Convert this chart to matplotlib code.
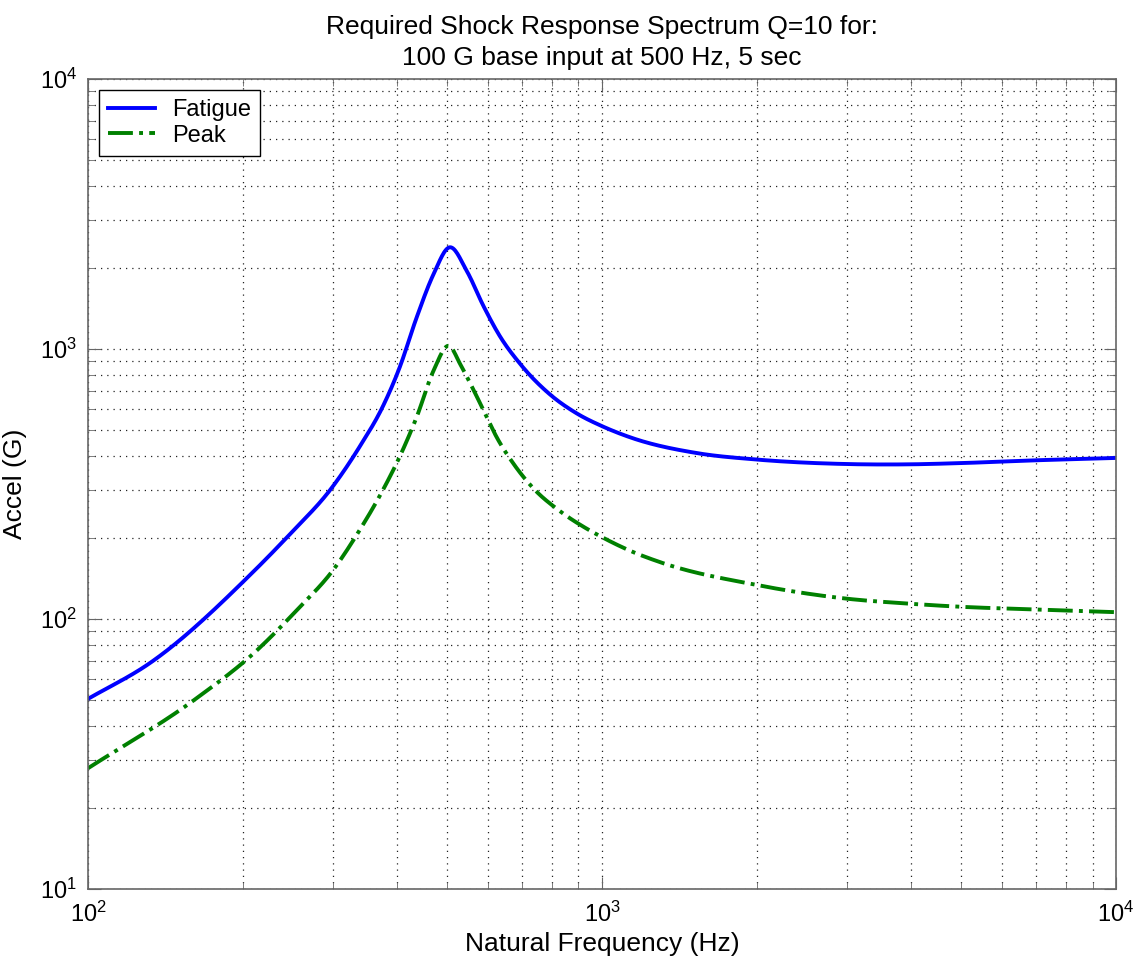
import numpy as np
import matplotlib
matplotlib.use("Agg")
import matplotlib.pyplot as plt

plt.rcParams['font.family'] = ['Liberation Sans', 'DejaVu Sans']
plt.rcParams['mathtext.default'] = 'regular'

# values
fatigue_freq = [100, 132, 207, 247, 298, 338, 375, 404, 436, 470, 505, 546, 588,
                633, 693, 792, 895, 1000, 1134, 1538, 1987, 2985, 3954,
                4988, 6946, 10000]
fatigue_acc = [50.6, 68.7, 146, 206, 306, 436, 615, 855, 1310, 1890, 2380, 1941,
               1443, 1115, 881, 679, 576, 518, 471, 411, 390, 375, 374,
               378, 387, 395]

peak_freq = [100, 162, 210, 255, 300, 338, 375, 404, 436, 470, 505, 529, 546,
             570, 588, 624, 672, 735, 828, 934, 1000, 1134, 1302, 1987,
             2985, 3954, 4988, 6946, 10000]
peak_acc = [28, 50.6, 74.6, 108, 152, 214, 301, 399, 560, 830, 1026, 884, 789,
            670, 593, 471, 377, 305, 251, 216, 201, 179, 162, 134, 119,
            114, 111, 108.5, 106]


def hermite(x, y, xs):
    # cubic through the read points, slopes from neighbouring chords
    x = np.asarray(x, float)
    y = np.asarray(y, float)
    h = np.diff(x)
    d = np.diff(y) / h
    m = np.empty_like(y)
    m[1:-1] = (d[:-1] * h[1:] + d[1:] * h[:-1]) / (h[:-1] + h[1:])
    m[0] = d[0]
    m[-1] = d[-1]
    idx = np.clip(np.searchsorted(x, xs) - 1, 0, len(x) - 2)
    t = (xs - x[idx]) / h[idx]
    h00 = 2 * t**3 - 3 * t**2 + 1
    h10 = t**3 - 2 * t**2 + t
    h01 = -2 * t**3 + 3 * t**2
    h11 = t**3 - t**2
    return (h00 * y[idx] + h10 * h[idx] * m[idx] + h01 * y[idx + 1]
            + h11 * h[idx] * m[idx + 1])


def curve(f, a):
    lf = np.log10(f)
    xs = np.linspace(lf[0], lf[-1], 1000)
    return 10 ** xs, 10 ** hermite(lf, np.log10(a), xs)


fx, fy = curve(fatigue_freq, fatigue_acc)
px, py = curve(peak_freq, peak_acc)

fig = plt.figure(figsize=(11.38, 9.66), dpi=100)
ax = fig.add_axes([0.0773, 0.0797, 0.9034, 0.8385])

ax.loglog(fx, fy, '-', color='#0000ff', lw=2.8, label='Fatigue')
ax.loglog(px, py, '-.', color='#008000', lw=2.8, label='Peak')

ax.set_xlim(100, 10000)
ax.set_ylim(10, 10000)
ax.grid(True, which='both', linestyle=(0, (1, 4)), color='#222222', lw=0.9)
ax.tick_params(which='both', direction='in', top=True, right=True,
               labelsize=17, color='#666666')
ax.tick_params(which='major', length=9)
ax.tick_params(which='minor', length=5)
for s in ax.spines.values():
    s.set_color('#666666')
    s.set_linewidth(1.2)
ax.tick_params(axis='x', pad=9)
ax.tick_params(axis='y', pad=8)

ax.set_xlabel('Natural Frequency (Hz)', fontsize=19, labelpad=4)
ax.set_ylabel('Accel (G)', fontsize=19, labelpad=9)
ax.set_title('Required Shock Response Spectrum Q=10 for:\n100 G base input at 500 Hz, 5 sec',
             fontsize=19, pad=10, linespacing=1.4)

leg = ax.legend(loc='upper left', fontsize=17, fancybox=False, framealpha=1,
                edgecolor='black', handlelength=2.0, handletextpad=0.7,
                labelspacing=0.15, borderpad=0.4, borderaxespad=0.45)
leg.get_frame().set_linewidth(1.0)

fig.savefig('out.png', dpi=100)
